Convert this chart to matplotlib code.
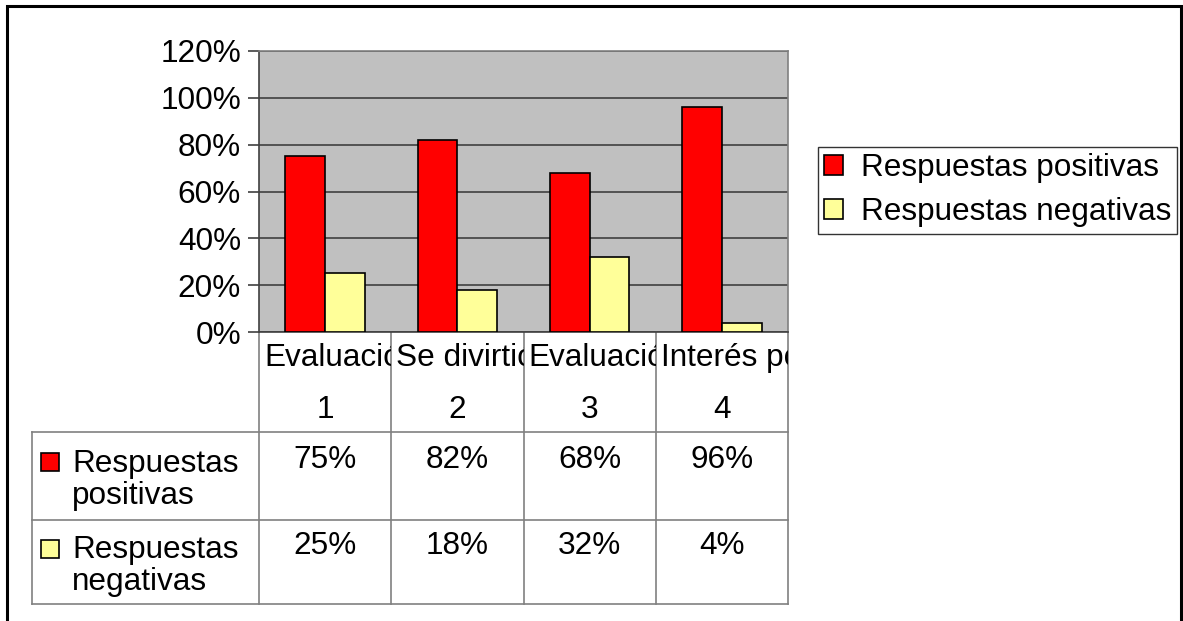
import numpy as np
import matplotlib.pyplot as plt
from matplotlib.patches import Patch, Rectangle

plt.rcParams['font.family'] = ['Liberation Sans', 'DejaVu Sans']

categories = ['Evaluación', 'Se divirtió', 'Evaluación', 'Interés por']
numbers = ['1', '2', '3', '4']
series_names = ['Respuestas positivas', 'Respuestas negativas']
row_labels = ['Respuestas\npositivas', 'Respuestas\nnegativas']
positivas = [75, 82, 68, 96]
negativas = [25, 18, 32, 4]
yticks = [0, 20, 40, 60, 80, 100, 120]

red = '#FF0000'
yellow = '#FFFF99'
fs = 22.7

W, H = 1183, 621
fig = plt.figure(figsize=(W / 100, H / 100), dpi=100)

# plot area in pixels
left_px, right_px, top_px, bot_px = 259, 788, 51, 332
ax = fig.add_axes([left_px / W, 1 - bot_px / H,
                   (right_px - left_px) / W, (bot_px - top_px) / H])
ax.set_facecolor('#C0C0C0')

x = np.arange(len(categories)) + 0.5
width = 0.3
ax.bar(x - width / 2, positivas, width, color=red, edgecolor='black',
       linewidth=1.2, zorder=3, label=series_names[0])
ax.bar(x + width / 2, negativas, width, color=yellow, edgecolor='black',
       linewidth=1.2, zorder=3, label=series_names[1])

ax.set_xlim(0, len(categories))
ax.set_ylim(0, 120)
ax.set_yticks(yticks)
ax.set_yticklabels([f'{v}%' for v in yticks], fontsize=fs)
ax.set_xticks([])
ax.yaxis.grid(True, color='#404040', linewidth=1.2, zorder=0)
ax.tick_params(axis='y', length=8, width=1.2, color='#404040', pad=5)
for s in ['top', 'right']:
    ax.spines[s].set_color('#808080')
ax.spines['left'].set_color('#404040')
ax.spines['bottom'].set_color('#404040')
for s in ax.spines.values():
    s.set_linewidth(1.2)

# data table below the plot, x in data units, y in axes units
tr = ax.get_xaxis_transform()
h_px = bot_px - top_px


def ay(py):
    return (bot_px - py) / h_px


col_w_px = (right_px - left_px) / len(categories)
x_tab = (32 - left_px) / col_w_px
line_kw = dict(transform=tr, clip_on=False, color='#808080', linewidth=1.2)

y_head = ay(432)
y_mid = ay(520)
y_bot = ay(604)
for yy in [y_head, y_mid, y_bot]:
    ax.plot([x_tab, len(categories)], [yy, yy], **line_kw)
for i in range(len(categories) + 1):
    ax.plot([i, i], [0, y_bot], **line_kw)
ax.plot([x_tab, x_tab], [y_head, y_bot], **line_kw)

pad = 5 / col_w_px
for i, (cat, num) in enumerate(zip(categories, numbers)):
    t = ax.text(i + pad, ay(358), cat, transform=tr, fontsize=fs,
                ha='left', va='center', clip_on=True)
    t.set_clip_path(Rectangle((i, y_head), 1, -y_head, transform=tr))
    ax.text(i + 0.5, ay(410), num, transform=tr, fontsize=fs,
            ha='center', va='center')
    ax.text(i + 0.5, ay(460), f'{positivas[i]}%', transform=tr,
            fontsize=fs, ha='center', va='center')
    ax.text(i + 0.5, ay(546), f'{negativas[i]}%', transform=tr,
            fontsize=fs, ha='center', va='center')

for yy_sq, yy_txt, lab, col in [(462, 480, row_labels[0], red),
                               (549, 566, row_labels[1], yellow)]:
    ax.plot([(50 - left_px) / col_w_px], [ay(yy_sq)], marker='s',
            markersize=13, markerfacecolor=col, markeredgecolor='black',
            markeredgewidth=1.2, transform=tr, clip_on=False)
    ax.text((72 - left_px) / col_w_px, ay(yy_txt), lab, transform=tr,
            fontsize=fs, ha='left', va='center', linespacing=1.05)

handles = [Patch(facecolor=red, edgecolor='black', linewidth=1.2),
           Patch(facecolor=yellow, edgecolor='black', linewidth=1.2)]
leg = ax.legend(handles, series_names, loc='upper left',
                bbox_to_anchor=(818 / W, 1 - 147 / H),
                bbox_transform=fig.transFigure, fontsize=fs,
                frameon=True, fancybox=False, borderaxespad=0,
                handlelength=0.6, handleheight=0.6, handletextpad=0.55,
                labelspacing=0.45, borderpad=0.2)
leg.get_frame().set_edgecolor('black')
leg.get_frame().set_linewidth(1.0)

# outer chart border
fig.patches.append(Rectangle((7 / W, -0.01), (1181 - 7) / W,
                             1 - 6 / H + 0.01, transform=fig.transFigure,
                             fill=False, edgecolor='black', linewidth=2.2))

fig.savefig('out.png', dpi=100)
